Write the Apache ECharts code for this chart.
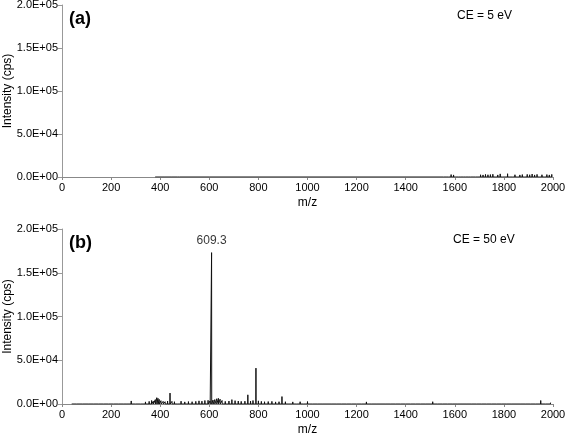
<!DOCTYPE html>
<html>
<head>
<meta charset="utf-8">
<script src="https://cdn.jsdelivr.net/npm/echarts@6/dist/echarts.min.js"></script>
<style>
html,body{margin:0;padding:0;background:#fff;}
#chart{width:567px;height:437px;}
</style>
</head>
<body>
<div id="chart"></div>
<script>
// m/z axis ticks and intensity ticks
var mzTicks = [0, 200, 400, 600, 800, 1000, 1200, 1400, 1600, 1800, 2000];
var intensityTicks = [0, 50000, 100000, 150000, 200000];

// (a) CE = 5 eV : only weak noise, mostly above m/z 1550
var peaksA = [
	[380,600],[420,500],[445,800],[470,700],[480,600],[600,400],
	[1555,1500],[1565,2200],[1575,1800],[1585,2800],[1595,2400],[1605,1600],[1615,2000],
	[1625,1400],[1635,1800],[1645,1500],[1655,2000],[1665,1700],[1675,2200],[1685,1600],
	[1695,2000],[1705,2600],[1715,2400],[1725,3000],[1735,2600],[1745,2800],[1755,3200],
	[1765,2000],[1775,2400],[1785,3600],[1795,1800],[1805,2200],[1815,3800],[1825,2000],
	[1835,1800],[1845,2600],[1855,2000],[1865,2400],[1875,2800],[1885,2200],[1895,3000],
	[1905,2600],[1915,3400],[1925,2400],[1935,3000],[1945,2000],[1955,2600],[1965,2200],
	[1975,2800],[1985,2400],[1995,3000]
];

// (b) CE = 50 eV
var peaksB = [
	[40,800],[60,600],[85,900],[110,700],[130,1800],[150,900],[170,1200],[190,2200],
	[210,1000],[230,1500],[250,1800],[265,1400],[282,3500],[300,1600],[320,2000],[340,2400],
	[355,3000],[365,4000],[372,3200],[380,5000],[386,7200],[391,6500],[396,5200],[403,3800],
	[412,3000],[420,2600],[430,3400],[440,12500],[448,3000],[458,2600],[470,2200],[485,3200],
	[500,2400],[515,2800],[530,2600],[545,3000],[558,3600],[570,3200],[582,4000],[595,4200],
	[603,3500],[609.3,173000],[615,4500],[622,5000],[630,6000],[637,6500],[644,5500],[652,4000],
	[665,3000],[680,3400],[692,5000],[705,3800],[718,3400],[730,3000],[745,3200],[757,10500],
	[768,3400],[778,4000],[790,41000],[800,3600],[812,3000],[825,2600],[840,2800],[855,3000],
	[870,2400],[884,2600],[896,8500],[910,2600],[925,2200],[940,2400],[955,2000],[970,2600],
	[985,2200],[1000,2800],[1020,2000],[1040,2200],[1060,1800],[1080,2000],[1100,1600],
	[1120,2000],[1140,1800],[1160,1600],[1180,2000],[1200,1800],[1220,1600],[1240,2400],
	[1260,1800],[1280,1600],[1300,2000],[1320,1800],[1340,1600],[1360,2000],[1380,1800],
	[1400,1600],[1420,1800],[1440,1600],[1460,2000],[1480,1800],[1500,1600],[1510,2600],
	[1530,1800],[1550,1600],[1570,2000],[1590,1800],[1610,1600],[1630,1800],[1650,2000],
	[1670,1800],[1690,2200],[1710,1800],[1730,1600],[1750,1800],[1770,1600],[1790,2000],
	[1810,1800],[1830,1600],[1850,1800],[1870,1600],[1890,1800],[1910,1600],[1930,2000],
	[1950,4000],[1970,1800],[1990,1600]
];

var labelPeaksB = [[609.3, 173000]];

// spectrum as sticks: baseline - top - baseline
function toSticks(list){
	var out = [];
	for (var i = 0; i < list.length; i++) {
		out.push([list[i][0] - 0.6, 0]);
		out.push([list[i][0], list[i][1]]);
		out.push([list[i][0] + 0.6, 0]);
	}
	return out;
}

function sciLabel(v){
	var s = Number(v).toExponential(1).toUpperCase(); // 2.0E+5
	var p = s.split('E');
	var sign = p[1].charAt(0);
	var exp = p[1].substring(1);
	if (exp.length < 2) exp = '0' + exp;
	return p[0] + 'E' + sign + exp;
}

var font = 'Liberation Sans, Arial, sans-serif';

function makeX(idx){
	return {
		type: 'value', gridIndex: idx,
		min: mzTicks[0], max: mzTicks[mzTicks.length - 1], interval: 200,
		name: 'm/z', nameLocation: 'middle', nameGap: 20, nameMoveOverlap: false,
		nameTextStyle: {color: '#000', fontSize: 12, fontFamily: font},
		axisLine: {lineStyle: {color: '#888', width: 1}},
		axisTick: {show: true, length: 3, lineStyle: {color: '#888'}},
		axisLabel: {color: '#000', fontSize: 11, fontFamily: font, margin: 5,
			formatter: function(v){ return String(v); }},
		splitLine: {show: false}
	};
}

function makeY(idx){
	return {
		type: 'value', gridIndex: idx,
		min: intensityTicks[0], max: intensityTicks[intensityTicks.length - 1], interval: 50000,
		name: 'Intensity (cps)', nameLocation: 'middle', nameGap: 48, nameMoveOverlap: false,
		nameTextStyle: {color: '#000', fontSize: 12, fontFamily: font},
		axisLine: {show: true, lineStyle: {color: '#999', width: 1}},
		axisTick: {show: true, length: 4, lineStyle: {color: '#999'}},
		axisLabel: {color: '#000', fontSize: 11, fontFamily: font, margin: 4, formatter: sciLabel},
		splitLine: {show: false}
	};
}

var option = {
	animation: false,
	backgroundColor: '#fff',
	title: [
		{text: '(a)', left: 64, top: 5, textStyle: {fontSize: 18, fontWeight: 'bold', color: '#000', fontFamily: font}},
		{text: 'CE = 5 eV', left: 452, top: 5, textStyle: {fontSize: 12, fontWeight: 'normal', color: '#000', fontFamily: font}},
		{text: '(b)', left: 64, top: 229, textStyle: {fontSize: 18, fontWeight: 'bold', color: '#000', fontFamily: font}},
		{text: 'CE = 50 eV', left: 448, top: 229, textStyle: {fontSize: 12, fontWeight: 'normal', color: '#000', fontFamily: font}}
	],
	grid: [
		{left: 62, top: 5, width: 491, height: 172, containLabel: false, outerBoundsMode: 'none'},
		{left: 62, top: 229, width: 491, height: 175, containLabel: false, outerBoundsMode: 'none'}
	],
	xAxis: [makeX(0), makeX(1)],
	yAxis: [makeY(0), makeY(1)],
	series: [
		{
			type: 'line', xAxisIndex: 0, yAxisIndex: 0,
			data: toSticks(peaksA), showSymbol: false, symbol: 'none',
			lineStyle: {color: '#111', width: 1}
		},
		{
			type: 'line', xAxisIndex: 1, yAxisIndex: 1,
			data: toSticks(peaksB), showSymbol: false, symbol: 'none',
			lineStyle: {color: '#111', width: 1}
		},
		{
			type: 'scatter', xAxisIndex: 1, yAxisIndex: 1,
			data: labelPeaksB, symbolSize: 0,
			label: {show: true, position: 'top', distance: 6, color: '#000', fontSize: 12, fontFamily: font,
				formatter: function(p){ return p.value[0].toFixed(1); }}
		}
	]
};

var myChart = echarts.init(document.getElementById('chart'), null, {renderer: 'canvas'});
myChart.setOption(option);
</script>
</body>
</html>
